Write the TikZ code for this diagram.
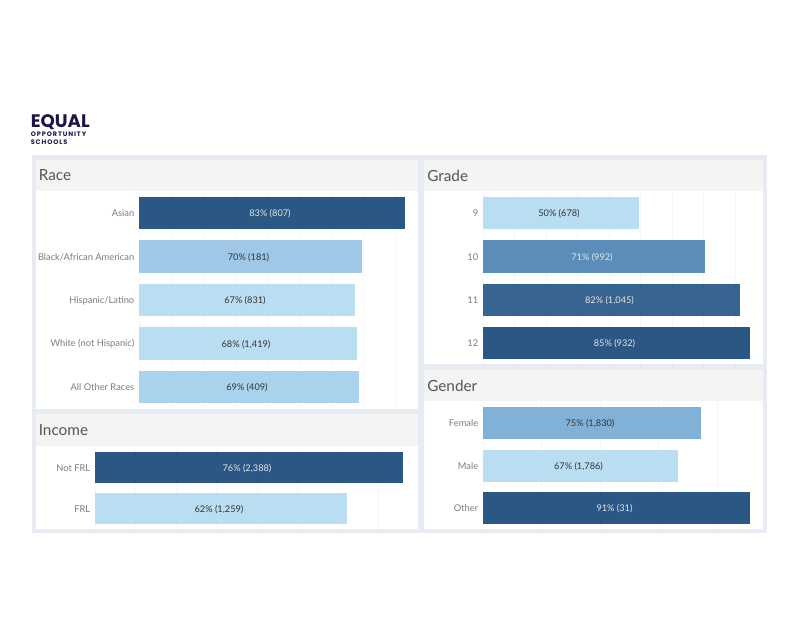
\documentclass[tikz,border=0pt]{standalone}
\usepackage{fontspec}
\setmainfont{Lato}
\newfontfamily\logofont{Poppins}
\definecolor{frameblue}{HTML}{E7ECF2}
\definecolor{headgrey}{HTML}{F4F4F4}
\definecolor{gridgrey}{HTML}{F5F6F8}
\definecolor{labelgrey}{HTML}{7C7C7C}
\definecolor{titlegrey}{HTML}{555555}
\definecolor{valuegrey}{HTML}{333333}
\definecolor{logonavy}{HTML}{1B1646}
\definecolor{shadeA}{HTML}{2A5783}
\definecolor{shadeB}{HTML}{376491}
\definecolor{shadeC}{HTML}{5B8DB8}
\definecolor{shadeD}{HTML}{82B1D7}
\definecolor{shadeE}{HTML}{9FC8E8}
\definecolor{shadeF}{HTML}{A9D2EC}
\definecolor{shadeG}{HTML}{B9DDF1}
\tikzset{
  paneltitle/.style={anchor=west, text=titlegrey, font=\fontsize{11.5}{13}\selectfont, inner sep=0pt},
  rowlabel/.style={anchor=east, text=labelgrey, font=\fontsize{7}{8}\selectfont, inner sep=0pt},
  barvalue/.style={text=valuegrey, font=\fontsize{6.9}{8}\selectfont, inner sep=0pt},
  darkvalue/.style={text=white!90!black, font=\fontsize{6.9}{8}\selectfont, inner sep=0pt},
  gridline/.style={gridgrey, line width=0.75pt},
  logoline/.style={anchor=west, text=logonavy, inner sep=0pt, font=\logofont\fontsize{4.9}{5}\bfseries\selectfont}
}
% #1 name, #2 left, #3 right, #4 top, #5 bottom, #6 colour, #7 value style, #8 value, #9 row label
\newcommand{\resultbar}[9]{
  \fill[#6] (#2, #4) rectangle (#3, #5);
  \node[#7] (#1) at ({(#2+#3)/2-2}, {(#4+#5)/2+0.7}) {#8};
  \node[rowlabel] (#1label) at (#2-4.5, {(#4+#5)/2+0.5}) {#9};
}
\begin{document}
\begin{tikzpicture}[x=0.75pt, y=-0.75pt]
  \useasboundingbox (0, 0) rectangle (800, 618);
  \fill[white] (0, 0) rectangle (800, 618);

  % logo
  \node[anchor=west, text=logonavy, inner sep=0pt, font=\logofont\fontsize{13.6}{14}\bfseries\selectfont] (logomain) at (30.5, 122.5) {EQUAL};
  \node[logoline] (logoone) at (30.5, 134.5) {\addfontfeature{LetterSpace=14}OPPORTUNITY};
  \node[logoline] (logotwo) at (30.5, 142.5) {\addfontfeature{LetterSpace=14}SCHOOLS};

  % panels
  \fill[frameblue] (32, 155) rectangle (767, 533);
  \fill[white] (36, 160) rectangle (418, 409);
  \fill[white] (36, 414) rectangle (418, 529);
  \fill[white] (424, 160) rectangle (763, 364);
  \fill[white] (424, 370) rectangle (763, 529);
  \fill[headgrey] (36, 160) rectangle (418, 191);
  \fill[headgrey] (36, 414) rectangle (418, 446);
  \fill[headgrey] (424, 160) rectangle (763, 191);
  \fill[headgrey] (424, 370) rectangle (763, 401);
  \node[paneltitle] (racetitle) at (38.5, 175.5) {Race};
  \node[paneltitle] (incometitle) at (38.5, 430.5) {Income};
  \node[paneltitle] (gradetitle) at (427, 175.5) {Grade};
  \node[paneltitle] (gendertitle) at (427, 386) {Gender};

  % grid lines
  \foreach \k in {0, ..., 8}
    \draw[gridline] (139+32.1*\k, 191) -- (139+32.1*\k, 409);
  \foreach \k in {0, ..., 7}
    \draw[gridline] (95+40.5*\k, 446) -- (95+40.5*\k, 529);
  \foreach \k in {0, ..., 8}
    \draw[gridline] (483+31.5*\k, 191) -- (483+31.5*\k, 364);
  \foreach \k in {0, ..., 4}
    \draw[gridline] (483+58.5*\k, 401) -- (483+58.5*\k, 529);

  % race
  \resultbar{asian}{139}{405}{197}{229}{shadeA}{darkvalue}{83\% (807)}{Asian}
  \resultbar{black}{139}{362}{240}{273}{shadeE}{barvalue}{70\% (181)}{Black/African American}
  \resultbar{hispanic}{139}{355}{284}{316}{shadeG}{barvalue}{67\% (831)}{Hispanic/Latino}
  \resultbar{white}{139}{357}{327}{360}{shadeG}{barvalue}{68\% (1,419)}{White (not Hispanic)}
  \resultbar{other}{139}{359}{371}{403}{shadeF}{barvalue}{69\% (409)}{All Other Races}

  % income
  \resultbar{notfrl}{95}{403}{452}{483}{shadeA}{darkvalue}{76\% (2,388)}{Not FRL}
  \resultbar{frl}{95}{347}{493}{524}{shadeG}{barvalue}{62\% (1,259)}{FRL}

  % grade
  \resultbar{nine}{483}{639}{197}{229}{shadeG}{barvalue}{50\% (678)}{9}
  \resultbar{ten}{483}{705}{240}{273}{shadeC}{darkvalue}{71\% (992)}{10}
  \resultbar{eleven}{483}{740}{284}{316}{shadeB}{darkvalue}{82\% (1,045)}{11}
  \resultbar{twelve}{483}{750}{327}{359}{shadeA}{darkvalue}{85\% (932)}{12}

  % gender
  \resultbar{female}{483}{701}{407}{439}{shadeD}{barvalue}{75\% (1,830)}{Female}
  \resultbar{male}{483}{678}{450}{482}{shadeG}{barvalue}{67\% (1,786)}{Male}
  \resultbar{othergender}{483}{750}{492}{524}{shadeA}{darkvalue}{91\% (31)}{Other}
\end{tikzpicture}
\end{document}
